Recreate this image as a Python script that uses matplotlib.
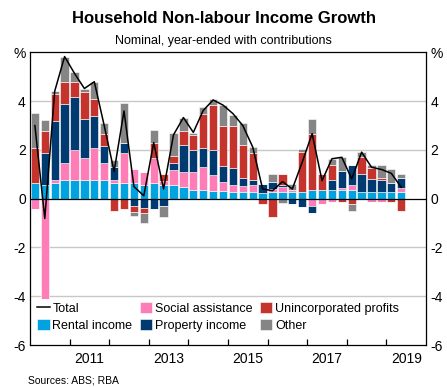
import numpy as np
import matplotlib
matplotlib.use("Agg")
import matplotlib.pyplot as plt

plt.rcParams['font.family'] = ['Liberation Sans', 'DejaVu Sans']

# quarters from 2010 Q1 to 2019 Q2, year-ended growth contributions (ppt)
quarters = np.arange(2010.125, 2019.5, 0.25)

rental = [0.66, 0.58, 0.66, 0.77, 0.77, 0.77, 0.77, 0.77, 0.66, 0.66,
          0.66, 0.58, 0.66, 0.56, 0.57, 0.47, 0.37, 0.37, 0.30, 0.30,
          0.26, 0.26, 0.26, 0.25, 0.26, 0.26, 0.26, 0.29, 0.37, 0.37,
          0.37, 0.37, 0.37, 0.26, 0.26, 0.26, 0.26, 0.26]
social = [-0.43, -4.11, 0.11, 0.70, 1.21, 0.91, 1.31, 0.70, 0.11, 1.21,
          0.55, 0.53, 1.00, 0.15, 0.60, 0.62, 0.72, 0.92, 0.68, 0.37,
          0.30, 0.28, 0.32, 0.0, 0.14, 0.21, 0.10, 0.0, -0.29, -0.22,
          -0.12, 0.08, 0.19, 0.0, -0.12, -0.12, 0.0, 0.18]
property_inc = [0.0, 1.30, 2.41, 2.41, 2.20, 1.61, 1.32, 0.69, 0.52, 0.41,
                -0.29, -0.37, -0.43, -0.29, 0.31, 1.10, 0.89, 0.79, 1.00, 0.69,
                0.70, 0.31, 0.19, 0.35, 0.27, 0.10, -0.20, -0.33, -0.31, 0.0,
                0.41, 0.70, 0.84, 0.76, 0.55, 0.51, 0.40, 0.41]
unincorp = [1.42, 0.90, 1.11, 0.89, 0.59, 1.09, 0.68, 0.51, -0.52, -0.43,
            -0.27, -0.22, 0.62, 0.31, 0.29, 0.59, 0.65, 1.40, 1.86, 1.62,
            1.72, 1.34, 1.11, -0.22, -0.74, 0.45, 0.0, 1.62, 2.30, 0.65,
            0.62, -0.14, -0.22, 0.71, 0.45, 0.08, -0.12, -0.52]
other = [1.45, 0.44, 0.12, 1.06, 0.44, 0.11, 0.72, 0.45, 0.30, 1.65,
         -0.15, -0.42, 0.52, -0.45, 0.92, 0.55, 0.08, 0.30, 0.27, 0.86,
         0.44, 0.93, 0.24, 0.0, 0.35, -0.19, 0.25, 0.14, 0.62, 0.0,
         0.22, 0.58, -0.30, 0.18, 0.14, 0.55, 0.55, 0.17]
total = [3.0, -0.81, 4.41, 5.83, 5.14, 4.52, 4.8, 3.0, 1.12, 3.6,
         0.5, 0.12, 2.3, 0.4, 2.62, 3.33, 2.72, 3.62, 4.05, 3.84,
         3.49, 3.0, 2.12, 0.4, 0.33, 0.7, 0.4, 1.5, 2.67, 0.74,
         1.64, 1.7, 0.81, 1.91, 1.29, 1.2, 1.04, 0.47]

series = [
    ("Rental income", rental, "#00A3E0"),
    ("Social assistance", social, "#FF7DB6"),
    ("Property income", property_inc, "#003A70"),
    ("Unincorporated profits", unincorp, "#C4342D"),
    ("Other", other, "#858585"),
]

fig = plt.figure(figsize=(4.47, 3.87), dpi=100)
ax = fig.add_axes([0.067, 0.1085, 0.886, 0.756])

pos_base = np.zeros(len(quarters))
neg_base = np.zeros(len(quarters))
handles = {}
for name, vals, col in series:
    v = np.array(vals)
    p = np.where(v > 0, v, 0)
    n = np.where(v < 0, v, 0)
    b = ax.bar(quarters, p, width=0.21, bottom=pos_base, color=col,
               edgecolor="white", linewidth=0.4, zorder=2)
    ax.bar(quarters, n, width=0.21, bottom=neg_base, color=col,
           edgecolor="white", linewidth=0.4, zorder=2)
    pos_base += p
    neg_base += n
    handles[name] = b

line, = ax.plot(quarters, total, color="black", lw=1.1, zorder=3)

ax.axhline(0, color="black", lw=0.9, zorder=2.5)
for y in [-4, -2, 2, 4]:
    ax.axhline(y, color="#c8c8c8", lw=1.0, zorder=1)

ax.set_xlim(2010, 2020)
ax.set_ylim(-6, 6)

yt = [-6, -4, -2, 0, 2, 4, 6]
ylab = ["-6", "-4", "-2", "0", "2", "4", "%"]
ax.set_yticks(yt)
ax.set_yticklabels(ylab)
ax.tick_params(axis="y", length=0, labelsize=10, pad=3,
               left=False, right=False, labelleft=True, labelright=True)

ax.set_xticks(np.arange(2011, 2020))
ax.set_xticklabels([])
ax.set_xticks(np.arange(2011.5, 2020, 2), minor=True)
ax.set_xticklabels([str(y) for y in range(2011, 2020, 2)], minor=True)
ax.tick_params(axis="x", which="major", direction="in", length=4, width=0.9)
ax.tick_params(axis="x", which="minor", length=0, labelsize=10, pad=5)

for s in ax.spines.values():
    s.set_linewidth(0.9)

order = ["Total", "Rental income", "Social assistance", "Property income",
         "Unincorporated profits", "Other"]
hmap = dict(handles)
hmap["Total"] = line
ax.legend([hmap[k] for k in order], order, ncol=3, loc="lower left",
          bbox_to_anchor=(0.0, 0.02), frameon=False, fontsize=9,
          handlelength=1.0, handleheight=1.0, handletextpad=0.2,
          columnspacing=0.6, labelspacing=0.3, borderaxespad=0.2)

fig.text(0.5, 0.952, "Household Non-labour Income Growth", ha="center",
         va="center", fontsize=12, fontweight="bold")
fig.text(0.5, 0.895, "Nominal, year-ended with contributions", ha="center",
         va="center", fontsize=9)
fig.text(0.062, 0.018, "Sources: ABS; RBA", ha="left", va="center", fontsize=7.5)

fig.savefig("out.png", dpi=100)
